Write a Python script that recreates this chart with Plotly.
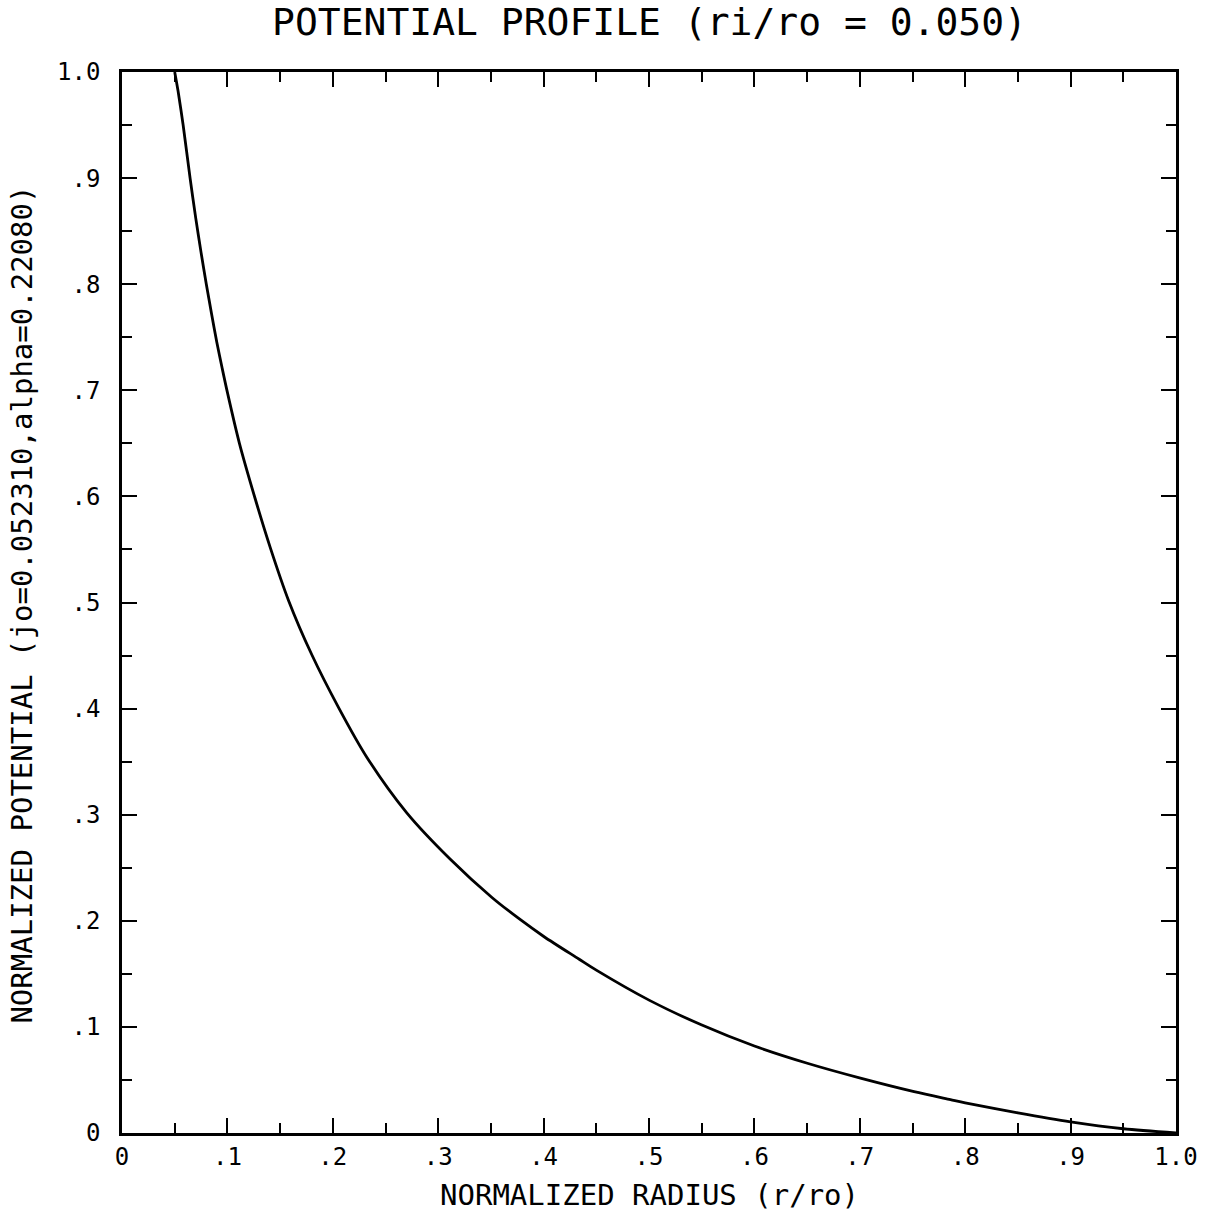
import plotly.graph_objects as go

# Data
radius = [0.05, 0.0532, 0.058, 0.0646, 0.07, 0.075, 0.08, 0.085, 0.09, 0.095,
          0.1, 0.1114, 0.1263, 0.1406, 0.158, 0.18, 0.2055, 0.2324, 0.27, 0.3115,
          0.351, 0.378, 0.4005, 0.4334, 0.45, 0.5005, 0.5496, 0.6, 0.651, 0.7015,
          0.7515, 0.786, 0.8, 0.85, 0.9, 0.95, 1.0]
potential = [1.0, 0.982, 0.95, 0.9, 0.862, 0.83, 0.8, 0.772, 0.745, 0.721,
             0.698, 0.650, 0.598, 0.552, 0.502, 0.451, 0.401, 0.354, 0.302, 0.258,
             0.222, 0.201, 0.185, 0.164, 0.1535, 0.125, 0.102, 0.082, 0.0655, 0.0515,
             0.039, 0.0315, 0.0285, 0.019, 0.0105, 0.004, 0.0]

tick_vals = [0, 0.1, 0.2, 0.3, 0.4, 0.5, 0.6, 0.7, 0.8, 0.9, 1.0]
tick_text = ["0", ".1", ".2", ".3", ".4", ".5", ".6", ".7", ".8", ".9", "1.0"]

title_text = "POTENTIAL PROFILE (ri/ro = 0.050)"
x_title = "NORMALIZED RADIUS (r/ro)"
y_title = "NORMALIZED POTENTIAL (jo=0.052310,alpha=0.22080)"

FONT = "DejaVu Sans Mono"

fig = go.Figure()
fig.add_trace(go.Scatter(x=radius, y=potential, mode="lines",
                         line=dict(color="black", width=2.8, shape="spline", smoothing=0.8),
                         showlegend=False, hoverinfo="skip"))

axis_common = dict(
    range=[0, 1.0],
    tickvals=tick_vals,
    ticktext=tick_text,
    ticks="inside",
    ticklen=15,
    tickwidth=2,
    tickcolor="black",
    showline=True,
    linecolor="black",
    linewidth=2.5,
    mirror="ticks",
    showgrid=False,
    zeroline=False,
    tickfont=dict(family=FONT, size=24, color="black"),
    minor=dict(ticks="inside", ticklen=10, tickwidth=2, tickcolor="black",
               dtick=0.05, tick0=0, showgrid=False),
)

fig.update_xaxes(**axis_common, ticklabelstandoff=0)
fig.update_yaxes(**axis_common, ticklabelstandoff=14)

fig.update_layout(
    width=1211, height=1215,
    margin=dict(l=122, r=35, t=72, b=82),
    paper_bgcolor="white",
    plot_bgcolor="white",
    annotations=[
        dict(text=title_text, xref="paper", yref="paper", x=0.5, y=1.047,
             showarrow=False, xanchor="center", yanchor="middle",
             font=dict(family=FONT, size=38, color="black")),
        dict(text=x_title, xref="paper", yref="paper", x=0.5, y=-0.0584,
             showarrow=False, xanchor="center", yanchor="middle",
             font=dict(family=FONT, size=29, color="black")),
        dict(text=y_title, xref="paper", yref="paper", x=-0.0949, y=0.498,
             showarrow=False, xanchor="center", yanchor="middle", textangle=-90,
             font=dict(family=FONT, size=29, color="black")),
    ],
)

fig.write_html("out.html")
